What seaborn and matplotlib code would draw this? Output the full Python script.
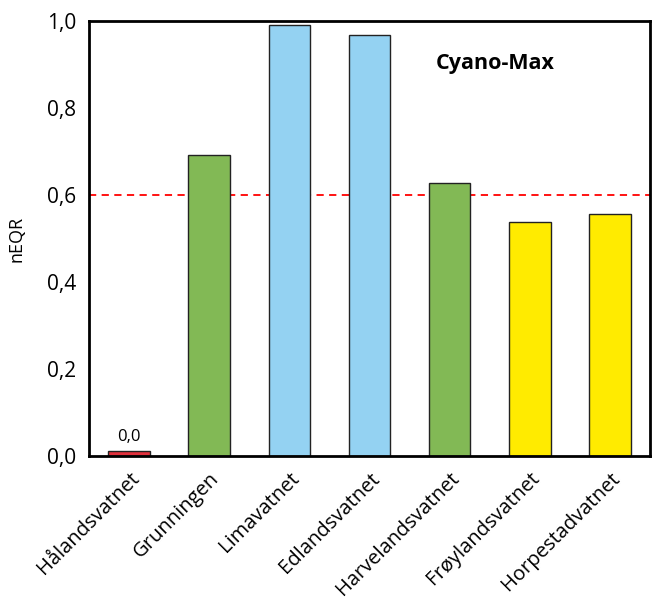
import matplotlib
matplotlib.use("Agg")
import matplotlib.pyplot as plt
import seaborn as sns
import pandas as pd

lakes = ["Hålandsvatnet", "Grunningen", "Limavatnet", "Edlandsvatnet",
         "Harvelandsvatnet", "Frøylandsvatnet", "Horpestadvatnet"]
neqr = [0.011, 0.692, 0.991, 0.968, 0.628, 0.538, 0.556]
colors = ["#E0303C", "#82B955", "#94D2F2", "#94D2F2", "#82B955", "#FFEB00", "#FFEB00"]
threshold = 0.6
yticks = [0.0, 0.2, 0.4, 0.6, 0.8, 1.0]
ytick_labels = ["0,0", "0,2", "0,4", "0,6", "0,8", "1,0"]

sns.set_theme(style="white")
plt.rcParams["font.family"] = ["Open Sans", "DejaVu Sans"]
plt.rcParams["text.color"] = "black"
plt.rcParams["axes.labelcolor"] = "black"
plt.rcParams["xtick.color"] = "black"
plt.rcParams["ytick.color"] = "black"

df = pd.DataFrame({"lake": lakes, "neqr": neqr})

fig = plt.figure(figsize=(6.56, 6.09), dpi=100)
ax = fig.add_axes([0.1357, 0.2512, 0.855, 0.7143])
sns.barplot(data=df, x="lake", y="neqr", hue="lake", palette=colors,
            legend=False, width=0.52, edgecolor="#222222", linewidth=1.0,
            saturation=1, ax=ax)

ax.axhline(threshold, color="#FF0000", linestyle=(0, (4, 3)), linewidth=1.3, zorder=0.5)

ax.set_ylim(0, 1.0)
ax.set_xlim(-0.5, len(lakes) - 0.5)
ax.set_yticks(yticks)
ax.set_yticklabels(ytick_labels, fontsize=15)
ax.set_xticks(range(len(lakes)))
ax.set_xticklabels(lakes, rotation=45, ha="right", rotation_mode="anchor", fontsize=14.5)
ax.tick_params(axis="x", length=0, pad=9)
ax.set_xticks([i + 0.5 for i in range(len(lakes) - 1)], minor=True)
ax.tick_params(axis="x", which="minor", length=5, width=1.5, direction="out", color="black")
ax.tick_params(axis="y", length=5, width=1.5, direction="out", color="black", pad=4)
ax.set_xlabel("")
ax.set_ylabel("nEQR", fontsize=13, labelpad=16)

for s in ax.spines.values():
    s.set_color("black")
    s.set_linewidth(2)

ax.text(0, neqr[0] + 0.015, "0,0", ha="center", va="bottom", fontsize=12)
ax.text(4.57, 0.903, "Cyano-Max", ha="center", va="center", fontsize=15.5, fontweight="bold")

fig.savefig("out.png", dpi=100)
